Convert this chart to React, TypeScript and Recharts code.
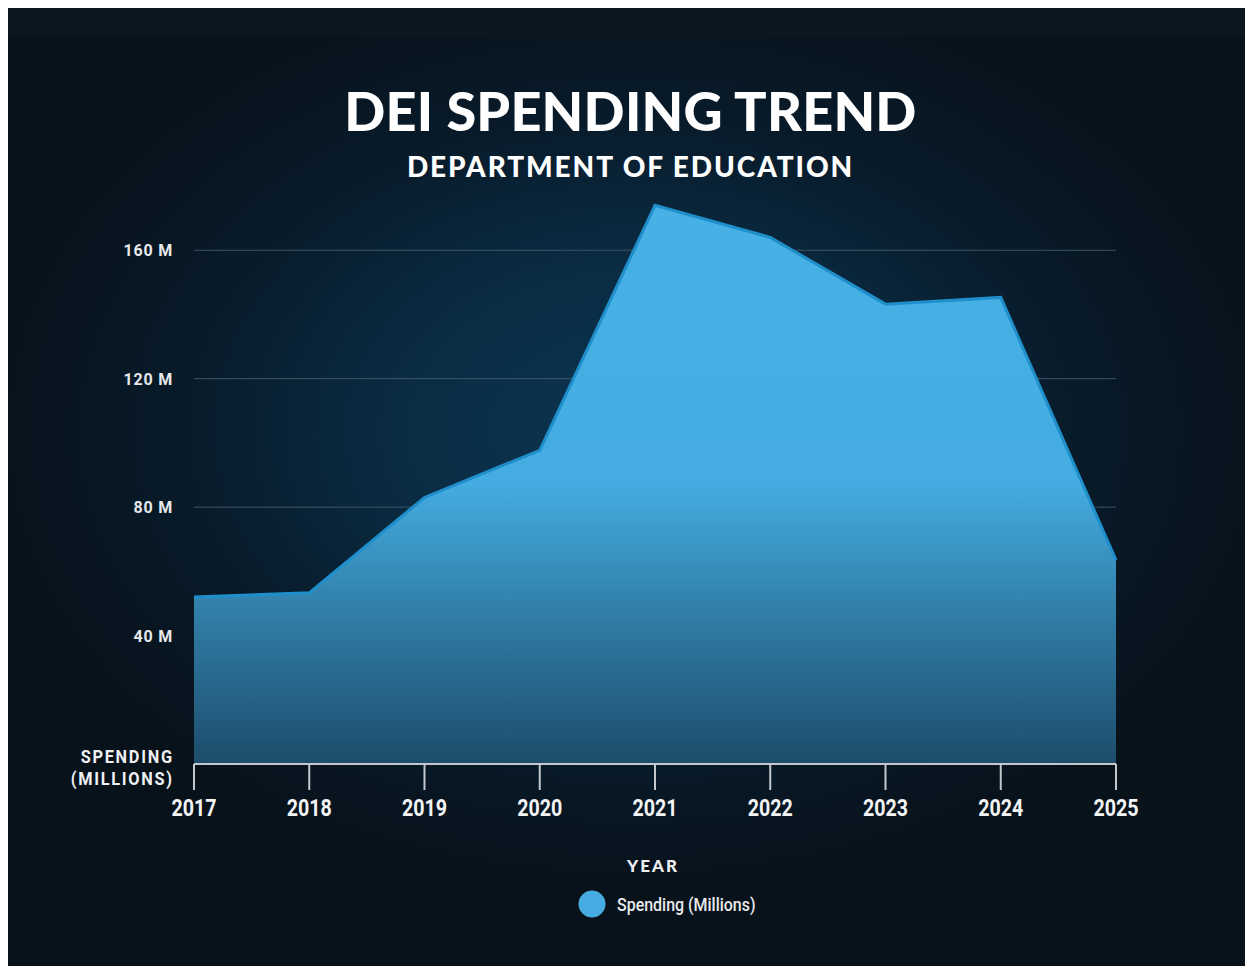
import React from 'react';
import { AreaChart, Area, XAxis, YAxis, CartesianGrid, Legend } from 'recharts';

// Years on the x axis
const years = ['2017', '2018', '2019', '2020', '2021', '2022', '2023', '2024', '2025'];
// Spending in millions
const spending = [52, 53.3, 83, 97.7, 174, 164, 143.2, 145.3, 63.5];
// Y tick values (0 has no label)
const yTicks = [40, 80, 120, 160];

const data = years.map((year, i) => ({ year, spending: spending[i] }));

const narrow = 'Roboto, "DejaVu Sans Condensed", sans-serif';
const wide = 'Lato, "Open Sans", sans-serif';

const XTick = (props: any) => {
  const { x, y, payload } = props;
  return (
    <g transform={`translate(${x},${y})`}>
      <text
        transform="scale(0.82,1)"
        dy={18}
        textAnchor="middle"
        fill="#f2f4f6"
        fontFamily={narrow}
        fontWeight={700}
        fontSize={24}
      >
        {payload.value}
      </text>
    </g>
  );
};

const YTick = (props: any) => {
  const { x, y, payload } = props;
  return (
    <text
      x={x - 13}
      y={y}
      dy={6}
      textAnchor="end"
      fill="#e6e9ec"
      fontFamily={narrow}
      fontWeight={700}
      fontSize={16}
      letterSpacing={0.8}
    >
      {payload.value} M
    </text>
  );
};

const LegendContent = () => (
  <div style={{ display: 'flex', alignItems: 'center' }}>
    <svg width={28} height={28}>
      <circle cx={14} cy={14} r={13.5} fill="#45ade3" />
    </svg>
    <span
      style={{
        marginLeft: 11,
        color: '#e8eaec',
        fontFamily: narrow,
        fontWeight: 500,
        fontSize: 19,
        display: 'inline-block',
        transform: 'scaleX(0.84)',
        transformOrigin: 'left center',
        whiteSpace: 'nowrap',
      }}
    >
      Spending (Millions)
    </span>
  </div>
);

const App: React.FC = () => {
  return (
    <div
      style={{
        position: 'relative',
        width: 1245,
        height: 958,
        overflow: 'hidden',
        background:
          'radial-gradient(ellipse 52% 48% at 50% 44%, #0b3450 0%, #0a2c44 35%, #081a29 70%, #08121b 100%)',
      }}
    >
      <div style={{ position: 'absolute', left: 0, top: 0, width: 1245, height: 29, background: '#0a1620' }} />
      <div
        style={{
          position: 'absolute',
          top: 70,
          width: '100%',
          textAlign: 'center',
          color: '#ffffff',
          fontFamily: wide,
          fontWeight: 900,
          fontSize: 54,
          letterSpacing: 0.2,
        }}
      >
        DEI SPENDING TREND
      </div>
      <div
        style={{
          position: 'absolute',
          top: 141,
          width: '100%',
          textAlign: 'center',
          color: '#ffffff',
          fontFamily: wide,
          fontWeight: 900,
          fontSize: 28,
          letterSpacing: 1.9,
        }}
      >
        DEPARTMENT OF EDUCATION
      </div>

      <AreaChart
        width={1245}
        height={958}
        data={data}
        margin={{ top: 178, right: 137, bottom: 142, left: 0 }}
        style={{ position: 'absolute', left: 0, top: 0 }}
      >
        <defs>
          <linearGradient id="spendFill" x1="0" y1="0" x2="0" y2="1">
            <stop offset="0%" stopColor="#47b1e5" />
            <stop offset="50%" stopColor="#44ace0" />
            <stop offset="75%" stopColor="#2f7aa3" />
            <stop offset="100%" stopColor="#1d4d6b" />
          </linearGradient>
        </defs>
        <CartesianGrid vertical={false} syncWithTicks stroke="#3f5666" strokeWidth={1} />
        <XAxis
          dataKey="year"
          height={60}
          tickSize={26}
          tickMargin={8}
          stroke="#c3c8cd"
          axisLine={{ stroke: '#c3c8cd', strokeWidth: 2 }}
          tickLine={{ stroke: '#c3c8cd', strokeWidth: 2 }}
          tick={<XTick />}
        />
        <YAxis
          width={186}
          domain={[0, 180]}
          ticks={yTicks}
          axisLine={false}
          tickLine={false}
          tick={<YTick />}
        />
        <Area
          type="linear"
          dataKey="spending"
          name="Spending (Millions)"
          stroke="#1f8fcc"
          strokeWidth={3}
          fill="url(#spendFill)"
          fillOpacity={1}
          dot={false}
          activeDot={false}
          isAnimationActive={false}
        />
        <Legend
          verticalAlign="middle"
          layout="horizontal"
          content={<LegendContent />}
          wrapperStyle={{ top: 882, left: 570, width: 220 }}
        />
      </AreaChart>

      <div
        style={{
          position: 'absolute',
          right: 1245 - 166,
          top: 738,
          textAlign: 'right',
          color: '#eef0f2',
          fontFamily: narrow,
          fontWeight: 700,
          fontSize: 19,
          letterSpacing: 2,
          lineHeight: '22px',
          transform: 'scaleX(0.86)',
          transformOrigin: 'right center',
        }}
      >
        SPENDING
        <br />
        (MILLIONS)
      </div>
      <div
        style={{
          position: 'absolute',
          top: 847,
          left: 0,
          width: 1290,
          textAlign: 'center',
          color: '#eef0f2',
          fontFamily: wide,
          fontWeight: 900,
          fontSize: 17,
          letterSpacing: 2,
        }}
      >
        YEAR
      </div>
    </div>
  );
};

export default App;
